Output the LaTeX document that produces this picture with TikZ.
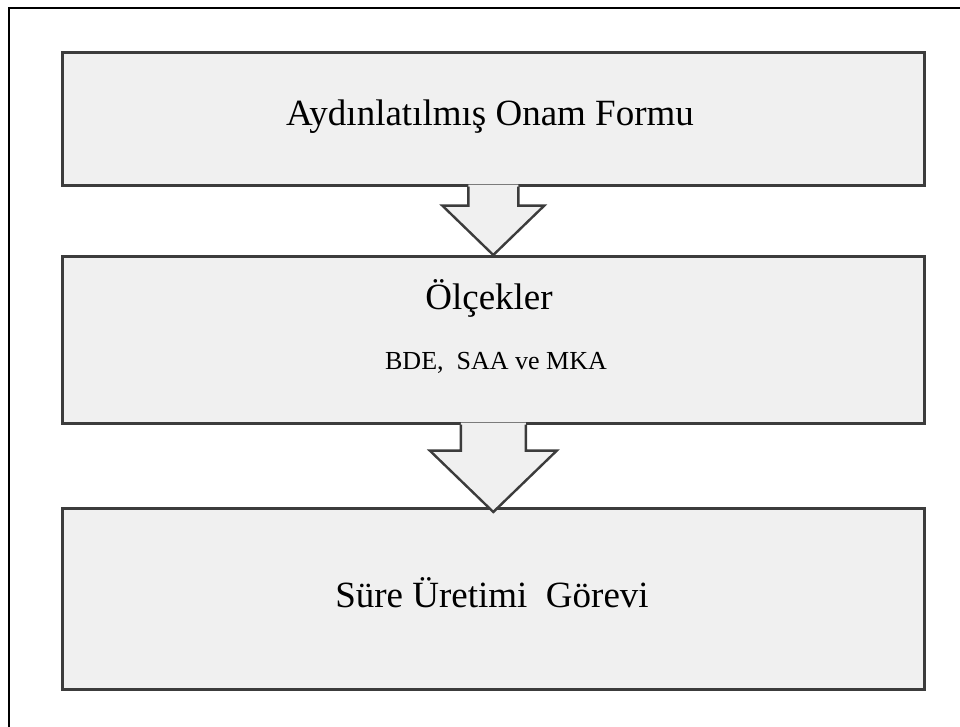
\documentclass[tikz,border=0pt]{standalone}
\usepackage{fontspec}
\setmainfont{Liberation Serif}
\usetikzlibrary{calc}
\definecolor{boxfill}{HTML}{F0F0F0}
\definecolor{boxline}{HTML}{3C3C3C}
\begin{document}
\begin{tikzpicture}[x=1pt,y=-1pt,
  stage/.style={draw=boxline, line width=2.6pt, fill=boxfill,
    minimum width=862pt, inner sep=0pt, anchor=north west},
  bigtext/.style={font=\fontsize{37}{44}\selectfont, inner sep=0pt},
  smalltext/.style={font=\fontsize{26}{31}\selectfont, inner sep=0pt},
  flowfill/.style={fill=boxfill},
  flowline/.style={draw=boxline, line width=2.4pt, line join=miter}]
  \useasboundingbox (0,0) rectangle (960,727);
  % outer frame (only top and left edges fall inside the page)
  \draw[black, line width=2pt] (9,760) -- (9,8) -- (990,8);

  % stage boxes
  \node[stage, minimum height=133pt] (b1) at (61,51) {};
  \node[stage, minimum height=167pt] (b2) at (61,255) {};
  \node[stage, minimum height=181pt] (b3) at (61,507) {};

  % labels
  \node[bigtext] (t1) at (490,117) {Aydınlatılmış Onam Formu};
  \node[bigtext] (t2) at (489,298) {Ölçekler};
  \node[smalltext] (t2b) at (496,363) {BDE,\ \ SAA ve MKA};
  \node[bigtext] (t3) at (492,593) {Süre Üretimi\ \ Görevi};

  % block arrow from first to second box
  \fill[flowfill] ($(b1.south)+(-25,-2)$) -- ($(b1.south)+(-25,19)$)
    -- ($(b1.south)+(-51,19)$) -- (b2.north) -- ($(b1.south)+(51,19)$)
    -- ($(b1.south)+(25,19)$) -- ($(b1.south)+(25,-2)$) -- cycle;
  \draw[flowline] ($(b1.south)+(-25,0)$) -- ($(b1.south)+(-25,19)$)
    -- ($(b1.south)+(-51,19)$) -- (b2.north) -- ($(b1.south)+(51,19)$)
    -- ($(b1.south)+(25,19)$) -- ($(b1.south)+(25,0)$);

  % block arrow from second to third box
  \coordinate (tip2) at ($(b3.north)+(0,5)$);
  \fill[flowfill] ($(b2.south)+(-32.5,-2)$) -- ($(b2.south)+(-32.5,26)$)
    -- ($(b2.south)+(-63.5,26)$) -- (tip2) -- ($(b2.south)+(63.5,26)$)
    -- ($(b2.south)+(32.5,26)$) -- ($(b2.south)+(32.5,-2)$) -- cycle;
  \draw[flowline] ($(b2.south)+(-32.5,0)$) -- ($(b2.south)+(-32.5,26)$)
    -- ($(b2.south)+(-63.5,26)$) -- (tip2) -- ($(b2.south)+(63.5,26)$)
    -- ($(b2.south)+(32.5,26)$) -- ($(b2.south)+(32.5,0)$);
\end{tikzpicture}
\end{document}
